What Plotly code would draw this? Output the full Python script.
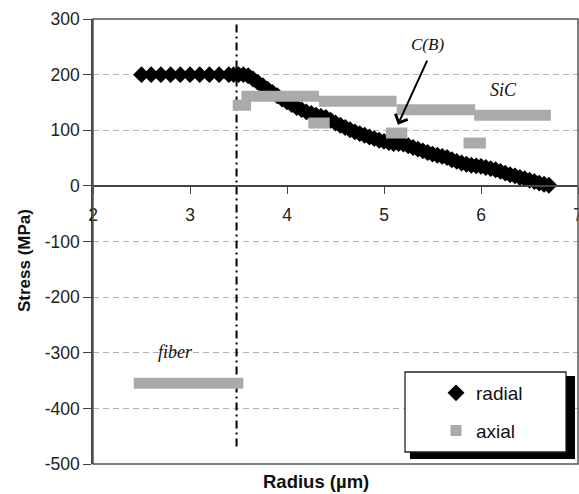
import plotly.graph_objects as go

# ---------------- data ----------------
radial_x = [2.5, 2.6, 2.7, 2.8, 2.9, 3.0, 3.1, 3.2, 3.3, 3.4,
            3.45, 3.50, 3.55, 3.60, 3.65, 3.70, 3.75, 3.80, 3.85, 3.90, 3.95,
            4.00, 4.05, 4.10, 4.15, 4.20, 4.25, 4.30, 4.35, 4.40, 4.45,
            4.50, 4.55, 4.60, 4.65, 4.70, 4.75, 4.80, 4.85, 4.90, 4.95,
            5.00, 5.05, 5.10, 5.15, 5.20, 5.25, 5.30, 5.35, 5.40, 5.45,
            5.50, 5.55, 5.60, 5.65, 5.70, 5.75, 5.80, 5.85, 5.90, 5.95,
            6.00, 6.05, 6.10, 6.15, 6.20, 6.25, 6.30, 6.35, 6.40, 6.45,
            6.50, 6.55, 6.60, 6.65, 6.70]
radial_y = [200, 200, 200, 200, 200, 200, 200, 200, 200, 200,
            200, 200, 200, 198, 192, 186, 180, 174, 168, 162, 156,
            151, 146, 141, 137, 133, 130, 127, 125, 123, 118,
            113, 109, 105, 101, 97, 94, 91, 88, 85, 82,
            80, 78, 76, 76, 75, 72, 69, 66, 63, 60,
            57, 55, 53, 51, 47, 44, 41, 39, 37, 36,
            35, 33, 31, 29, 26, 23, 20, 18, 15, 13,
            10, 8, 5, 3, 1]

# axial stress: piecewise-constant segments (start radius, end radius, value)
axial_x0 = [2.42, 3.44, 3.53, 4.33, 5.13, 5.93, 4.22, 5.02, 5.82]
axial_x1 = [3.55, 3.63, 4.33, 5.13, 5.94, 6.72, 4.44, 5.24, 6.05]
axial_y = [-355, 145, 161, 152, 137, 127, 113, 95, 77]

interface_x = 3.48
interface_y = [290, -470]

x_ticks = [2, 3, 4, 5, 6, 7]
y_ticks = [-500, -400, -300, -200, -100, 0, 100, 200, 300]

# ---------------- layout helpers (pixels -> paper) ----------------
W, H = 579, 494
ML, MR, MT, MB = 93, 1, 19, 30
PW, PH = W - ML - MR, H - MT - MB


def px(x):
    return (x - ML) / PW


def py(y):
    return (H - MB - y) / PH


ax_x, ax_y = [], []
for a, b, v in zip(axial_x0, axial_x1, axial_y):
    ax_x += [a, b, None]
    ax_y += [v, v, None]

GRAY = "#aaaaaa"
FONT = "Liberation Sans, Arial, sans-serif"
SERIF = "Liberation Serif, Times New Roman, serif"

fig = go.Figure()
fig.add_trace(go.Scatter(
    x=[interface_x, interface_x], y=interface_y, mode="lines",
    line=dict(color="black", width=2, dash="8px,4px,2px,4px"),
    showlegend=False, hoverinfo="skip"))
fig.add_trace(go.Scatter(
    x=radial_x, y=radial_y, mode="markers", name="radial", legendgroup="r",
    marker=dict(symbol="diamond", size=13, color="black",
                line=dict(width=0))))
fig.add_trace(go.Scatter(
    x=ax_x, y=ax_y, mode="lines", name="axial", legendgroup="a",
    line=dict(color=GRAY, width=11), showlegend=False))
fig.add_trace(go.Scatter(
    x=[None], y=[None], mode="markers", name="axial", legendgroup="a",
    marker=dict(symbol="square", size=11, color=GRAY)))

shapes = [
    # legend shadow and box
    dict(type="rect", xref="paper", yref="paper",
         x0=px(410), x1=px(575), y0=py(459), y1=py(376),
         fillcolor="black", line=dict(width=0), layer="above"),
    dict(type="rect", xref="paper", yref="paper",
         x0=px(405), x1=px(566), y0=py(452), y1=py(372),
         fillcolor="white", line=dict(color="#222", width=1.3), layer="above"),
    # plot frame
    dict(type="rect", xref="paper", yref="paper", x0=0, x1=1, y0=0, y1=1,
         line=dict(color="#555", width=1.5), layer="above"),
]

annotations = [
    dict(text="<i>C(B)</i>", x=px(427), y=py(44), xref="paper", yref="paper",
         showarrow=False, font=dict(family=SERIF, size=17, color="#111"),
         xanchor="center", yanchor="middle"),
    dict(text="<i>SiC</i>", x=px(503), y=py(90), xref="paper", yref="paper",
         showarrow=False, font=dict(family=SERIF, size=18, color="#111"),
         xanchor="center", yanchor="middle"),
    dict(text="<i>fiber</i>", x=px(175), y=py(352), xref="paper", yref="paper",
         showarrow=False, font=dict(family=SERIF, size=18, color="#111"),
         xanchor="center", yanchor="middle"),
    dict(text="", x=5.143, y=110, ax=5.452, ay=228, xref="x", yref="y",
         axref="x", ayref="y", showarrow=True, arrowhead=4, arrowsize=1.3,
         arrowwidth=2, arrowcolor="black"),
    dict(text="<b>Radius (µm)</b>", x=px(316), y=py(482), xref="paper",
         yref="paper", showarrow=False,
         font=dict(family=FONT, size=18.5, color="#111"),
         xanchor="center", yanchor="middle"),
    dict(text="<b>Stress (MPa)</b>", x=px(24), y=py(261), xref="paper",
         yref="paper", showarrow=False, textangle=-90,
         font=dict(family=FONT, size=17, color="#111"),
         xanchor="center", yanchor="middle"),
]

fig.update_layout(
    width=W, height=H,
    margin=dict(l=ML, r=MR, t=MT, b=MB, autoexpand=False),
    paper_bgcolor="white", plot_bgcolor="white",
    font=dict(family=FONT, size=17, color="#222"),
    shapes=shapes, annotations=annotations,
    legend=dict(x=px(436), y=py(374), xanchor="left", yanchor="top",
                bgcolor="rgba(0,0,0,0)", borderwidth=0,
                font=dict(family=FONT, size=19, color="#111"),
                traceorder="grouped", tracegroupgap=10),
    xaxis=dict(range=[2, 7], tickvals=x_ticks, ticktext=[str(v) for v in x_ticks],
               anchor="free", position=500 / 800, showline=True,
               linecolor="#444", linewidth=1.5, ticks="outside", ticklen=7,
               tickcolor="#444", tickwidth=1.2, showgrid=False, zeroline=False,
               ticklabelstandoff=6, ticklabeloverflow="allow",
               tickfont=dict(size=17.5)),
    yaxis=dict(range=[-500, 300], tickvals=y_ticks,
               ticktext=[str(v) for v in y_ticks], showline=True,
               linecolor="#444", linewidth=1.5, ticks="outside", ticklen=8,
               tickcolor="#444", tickwidth=1.2, showgrid=True,
               gridcolor="#b4b4b4", gridwidth=1, griddash="6px,4px",
               zeroline=False, tickfont=dict(size=17.5)),
)

fig.write_html("out.html", config={"displayModeBar": False},
               post_script="document.body.style.margin='0';"
                           "document.body.style.padding='0';")
